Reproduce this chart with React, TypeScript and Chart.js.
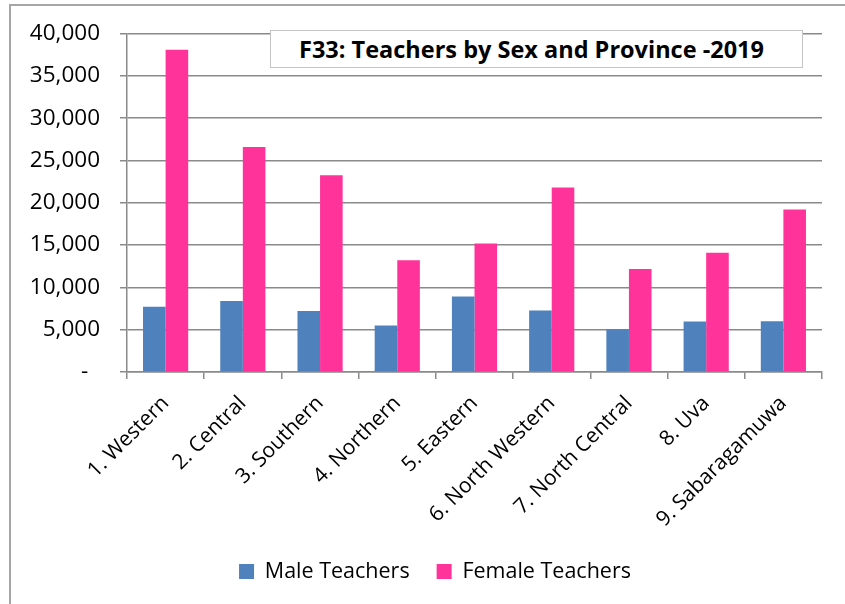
import React, { useEffect, useRef } from "react";
import { Chart, registerables } from "chart.js";

Chart.register(...registerables);

const categories = [
  "1. Western",
  "2. Central",
  "3. Southern",
  "4. Northern",
  "5. Eastern",
  "6. North Western",
  "7. North Central",
  "8. Uva",
  "9. Sabaragamuwa",
];
const maleTeachers = [7720, 8380, 7200, 5500, 8930, 7280, 5040, 5980, 6000];
const femaleTeachers = [38080, 26600, 23250, 13200, 15190, 21800, 12160, 14090, 19200];
const seriesNames = ["Male Teachers", "Female Teachers"];
const chartTitle = "F33: Teachers by Sex and Province -2019";
const yMin = 0;
const yMax = 40000;
const yStep = 5000;

const FONT = "'Open Sans', sans-serif";

const legendShift = {
  id: "legendShift",
  afterLayout(chart: any) {
    const lg = chart.legend;
    if (!lg) return;
    const dx = 435 - (lg.left + lg.right) / 2;
    const dy = 563 - (lg.top + lg.bottom) / 2;
    lg.left += dx;
    lg.right += dx;
    lg.top += dy;
    lg.bottom += dy;
  },
};

export default function App() {
  const canvasRef = useRef<HTMLCanvasElement | null>(null);

  useEffect(() => {
    const canvas = canvasRef.current;
    if (!canvas) return;
    const chart = new Chart(canvas, {
      type: "bar",
      data: {
        labels: categories,
        datasets: [
          {
            label: seriesNames[0],
            data: maleTeachers,
            backgroundColor: "#4F81BD",
            categoryPercentage: 0.585,
            barPercentage: 1.0,
          },
          {
            label: seriesNames[1],
            data: femaleTeachers,
            backgroundColor: "#FF3399",
            categoryPercentage: 0.585,
            barPercentage: 1.0,
          },
        ],
      },
      plugins: [legendShift],
      options: {
        animation: false,
        responsive: false,
        maintainAspectRatio: false,
        events: [],
        layout: { padding: { top: 33, left: 0, right: 23, bottom: 0 } },
        plugins: {
          legend: {
            position: "bottom",
            labels: {
              boxWidth: 15,
              boxHeight: 15,
              padding: 27,
              color: "#000",
              font: { family: FONT, size: 21.5 },
            },
          },
          title: { display: false },
          tooltip: { enabled: false },
        },
        scales: {
          x: {
            grid: {
              display: true,
              drawOnChartArea: false,
              drawTicks: true,
              tickLength: 7,
              color: "#8a8a8a",
              lineWidth: 1.5,
              offset: true,
            },
            border: { display: true, color: "#8a8a8a", width: 1.5 },
            ticks: {
              autoSkip: false,
              maxRotation: 45,
              minRotation: 45,
              padding: 12,
              labelOffset: 0,
              color: "#000",
              font: { family: FONT, size: 21 },
            },
            afterFit: (scale: any) => {
              scale.height = 173.5;
            },
          },
          y: {
            min: yMin,
            max: yMax,
            grid: {
              color: "#8a8a8a",
              lineWidth: 1.5,
              drawTicks: true,
              tickLength: 7,
            },
            border: { display: true, color: "#8a8a8a", width: 1.5 },
            ticks: {
              stepSize: yStep,
              padding: 20,
              color: "#000",
              font: { family: FONT, size: 22.5 },
              callback: (v: any) =>
                Number(v) === 0 ? "-  " : Number(v).toLocaleString("en-US"),
            },
            afterFit: (scale: any) => {
              scale.width = 127;
            },
          },
        },
      },
    });
    return () => chart.destroy();
  }, []);

  return (
    <div
      style={{
        position: "fixed",
        left: 0,
        top: 0,
        width: 845,
        height: 604,
        overflow: "hidden",
        background: "#fff",
      }}
    >
      <div
        style={{
          position: "absolute",
          left: 9,
          top: 4,
          width: 900,
          height: 700,
          borderTop: "2px solid #a6a6a6",
          borderLeft: "2px solid #a6a6a6",
        }}
      />
      <canvas
        ref={canvasRef}
        width={845}
        height={604}
        style={{ position: "absolute", left: 0, top: 0, width: 845, height: 604 }}
      />
      <div
        style={{
          position: "absolute",
          left: 270,
          top: 30,
          width: 533,
          height: 38,
          boxSizing: "border-box",
          border: "1.5px solid #c4c4c4",
          background: "#fff",
          display: "flex",
          alignItems: "center",
          justifyContent: "center",
          paddingRight: 10,
          fontFamily: FONT,
          fontWeight: 700,
          fontSize: 23.5,
          color: "#000",
          whiteSpace: "nowrap",
        }}
      >
        {chartTitle}
      </div>
    </div>
  );
}
